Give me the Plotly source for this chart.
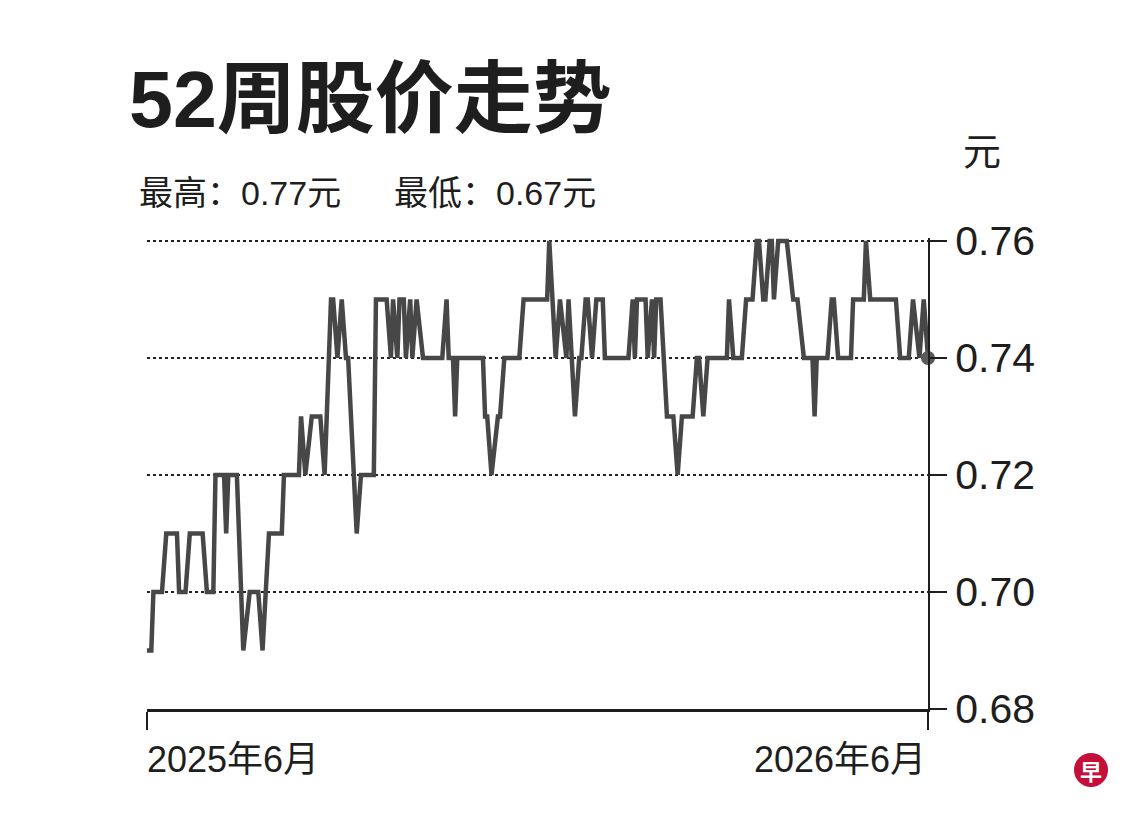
import plotly.graph_objects as go

# Dates of each turning point of the price line
lstDates = [
    "2025-06-01", "2025-06-03", "2025-06-04", "2025-06-08", "2025-06-10", "2025-06-15", "2025-06-16", "2025-06-19", "2025-06-21", "2025-06-27",
    "2025-06-29", "2025-07-02", "2025-07-03", "2025-07-07", "2025-07-08", "2025-07-09", "2025-07-13", "2025-07-16", "2025-07-19", "2025-07-23",
    "2025-07-25", "2025-07-28", "2025-08-03", "2025-08-04", "2025-08-11", "2025-08-12", "2025-08-14", "2025-08-17", "2025-08-21", "2025-08-23",
    "2025-08-26", "2025-08-27", "2025-08-29", "2025-08-31", "2025-09-02", "2025-09-03", "2025-09-07", "2025-09-09", "2025-09-15", "2025-09-16",
    "2025-09-21", "2025-09-23", "2025-09-24", "2025-09-26", "2025-09-27", "2025-09-29", "2025-09-30", "2025-10-02", "2025-10-03", "2025-10-05",
    "2025-10-08", "2025-10-17", "2025-10-19", "2025-10-20", "2025-10-22", "2025-10-23", "2025-10-24", "2025-11-05", "2025-11-06", "2025-11-07",
    "2025-11-09", "2025-11-12", "2025-11-13", "2025-11-15", "2025-11-22", "2025-11-24", "2025-12-05", "2025-12-06", "2025-12-09", "2025-12-11",
    "2025-12-14", "2025-12-15", "2025-12-18", "2025-12-20", "2025-12-21", "2025-12-23", "2025-12-24", "2025-12-26", "2025-12-28", "2025-12-31",
    "2026-01-01", "2026-01-12", "2026-01-14", "2026-01-15", "2026-01-16", "2026-01-20", "2026-01-21", "2026-01-23", "2026-01-24", "2026-01-25",
    "2026-01-27", "2026-01-30", "2026-02-02", "2026-02-04", "2026-02-06", "2026-02-11", "2026-02-13", "2026-02-14", "2026-02-16", "2026-02-18",
    "2026-02-27", "2026-02-28", "2026-03-02", "2026-03-06", "2026-03-08", "2026-03-11", "2026-03-13", "2026-03-14", "2026-03-16", "2026-03-17",
    "2026-03-19", "2026-03-20", "2026-03-21", "2026-03-23", "2026-03-27", "2026-03-30", "2026-04-01", "2026-04-04", "2026-04-08", "2026-04-09",
    "2026-04-10", "2026-04-15", "2026-04-17", "2026-04-18", "2026-04-20", "2026-04-26", "2026-04-27", "2026-05-02", "2026-05-03", "2026-05-05",
    "2026-05-17", "2026-05-19", "2026-05-23", "2026-05-25", "2026-05-28", "2026-05-30", "2026-06-01",
]

# Share price (元) at each of those dates
lstPrices = [
    0.69, 0.69, 0.70, 0.70, 0.71, 0.71, 0.70, 0.70, 0.71, 0.71,
    0.70, 0.70, 0.72, 0.72, 0.71, 0.72, 0.72, 0.69, 0.70, 0.70,
    0.69, 0.71, 0.71, 0.72, 0.72, 0.73, 0.72, 0.73, 0.73, 0.72,
    0.75, 0.75, 0.74, 0.75, 0.74, 0.74, 0.71, 0.72, 0.72, 0.75,
    0.75, 0.74, 0.75, 0.74, 0.75, 0.75, 0.74, 0.75, 0.74, 0.75,
    0.74, 0.74, 0.75, 0.74, 0.74, 0.73, 0.74, 0.74, 0.73, 0.73,
    0.72, 0.73, 0.73, 0.74, 0.74, 0.75, 0.75, 0.76, 0.74, 0.75,
    0.74, 0.75, 0.73, 0.74, 0.74, 0.75, 0.75, 0.74, 0.75, 0.75,
    0.74, 0.74, 0.75, 0.74, 0.75, 0.75, 0.74, 0.75, 0.74, 0.75,
    0.75, 0.73, 0.73, 0.72, 0.73, 0.73, 0.74, 0.74, 0.73, 0.74,
    0.74, 0.75, 0.74, 0.74, 0.75, 0.75, 0.76, 0.76, 0.75, 0.75,
    0.76, 0.76, 0.75, 0.76, 0.76, 0.75, 0.75, 0.74, 0.74, 0.73,
    0.74, 0.74, 0.75, 0.75, 0.74, 0.74, 0.75, 0.75, 0.76, 0.75,
    0.75, 0.74, 0.74, 0.75, 0.74, 0.75, 0.74,
]

# Axis ticks and labels
lstYTicks = [0.68, 0.70, 0.72, 0.74, 0.76]
lstXTicks = ["2025-06-01", "2026-06-01"]
lstXLabels = ["2025年6月", "2026年6月"]

strTitle = "52周股价走势"
strHigh = "最高：0.77元"
strLow = "最低：0.67元"
strUnit = "元"

strFont = "Liberation Sans, Noto Sans CJK SC, sans-serif"
strInk = "#1e1e1e"

fig = go.Figure()

# Price line
fig.add_trace(go.Scatter(
    x=lstDates, y=lstPrices, mode="lines",
    line=dict(color="#474747", width=4.5),
    hoverinfo="skip", showlegend=False,
))

# Dot on the last price
fig.add_trace(go.Scatter(
    x=lstDates[-1:], y=lstPrices[-1:], mode="markers",
    marker=dict(color="#5a5a5a", size=14),
    cliponaxis=False, hoverinfo="skip", showlegend=False,
))

# page body has an 8px margin, so the margins are 8px smaller on top/left
fig.update_layout(
    width=1140, height=820,
    margin=dict(l=139, r=220, t=230, b=119),
    paper_bgcolor="white", plot_bgcolor="white",
    font=dict(family=strFont, color=strInk),
)

fig.update_xaxes(
    type="date", range=[lstXTicks[0], lstXTicks[-1]],
    showgrid=False, zeroline=False,
    showline=True, linecolor=strInk, linewidth=2.5,
    tickmode="array", tickvals=lstXTicks, showticklabels=False,
    ticks="outside", ticklen=18, tickwidth=2, tickcolor=strInk,
)

fig.update_yaxes(
    side="right", range=[0.68, 0.7605],
    tickmode="array", tickvals=lstYTicks, tickformat=".2f",
    showgrid=True, gridcolor="#222222", gridwidth=1.5, griddash="dot",
    zeroline=False,
    showline=True, linecolor=strInk, linewidth=2,
    ticks="outside", ticklen=17, tickwidth=2, tickcolor=strInk,
    ticklabelstandoff=0,
    tickfont=dict(family=strFont, size=41, color=strInk),
)

# y axis line runs a little below the x axis
fig.add_shape(type="line", xref="paper", yref="paper",
              x0=1, x1=1, y0=0, y1=-0.036, line=dict(color=strInk, width=2))

# Heading, high/low and unit text
fig.add_annotation(text="<b>" + strTitle + "</b>", xref="paper", yref="paper",
                   x=-0.0256, y=1.2951, xanchor="left", yanchor="middle", showarrow=False,
                   font=dict(family=strFont, size=79, color=strInk))
fig.add_annotation(text=strHigh, xref="paper", yref="paper",
                   x=-0.0128, y=1.0955, xanchor="left", yanchor="middle", showarrow=False,
                   font=dict(family=strFont, size=34, color=strInk))
fig.add_annotation(text=strLow, xref="paper", yref="paper",
                   x=0.3137, y=1.0955, xanchor="left", yanchor="middle", showarrow=False,
                   font=dict(family=strFont, size=34, color=strInk))
fig.add_annotation(text=strUnit, xref="paper", yref="paper",
                   x=1.0691, y=1.1826, xanchor="center", yanchor="middle", showarrow=False,
                   font=dict(family=strFont, size=38, color=strInk))

# x labels sit flush with the ends of the axis
fig.add_annotation(text=lstXLabels[0], xref="paper", yref="paper",
                   x=-0.003, y=-0.108, xanchor="left", yanchor="middle", showarrow=False,
                   font=dict(family=strFont, size=36, color=strInk))
fig.add_annotation(text=lstXLabels[1], xref="paper", yref="paper",
                   x=1.0, y=-0.108, xanchor="right", yanchor="middle", showarrow=False,
                   font=dict(family=strFont, size=36, color=strInk))

# Red round logo in the corner
fig.add_shape(type="circle", xref="paper", yref="paper",
              x0=1.1869, x1=1.2305, y0=-0.1656, y1=-0.0934,
              fillcolor="#c40f3a", line=dict(width=0))
fig.add_annotation(text="<b>早</b>", xref="paper", yref="paper",
                   x=1.2087, y=-0.1295, xanchor="center", yanchor="middle", showarrow=False,
                   font=dict(family="Noto Sans CJK SC", size=22, color="white"))

fig.write_html("out.html")
